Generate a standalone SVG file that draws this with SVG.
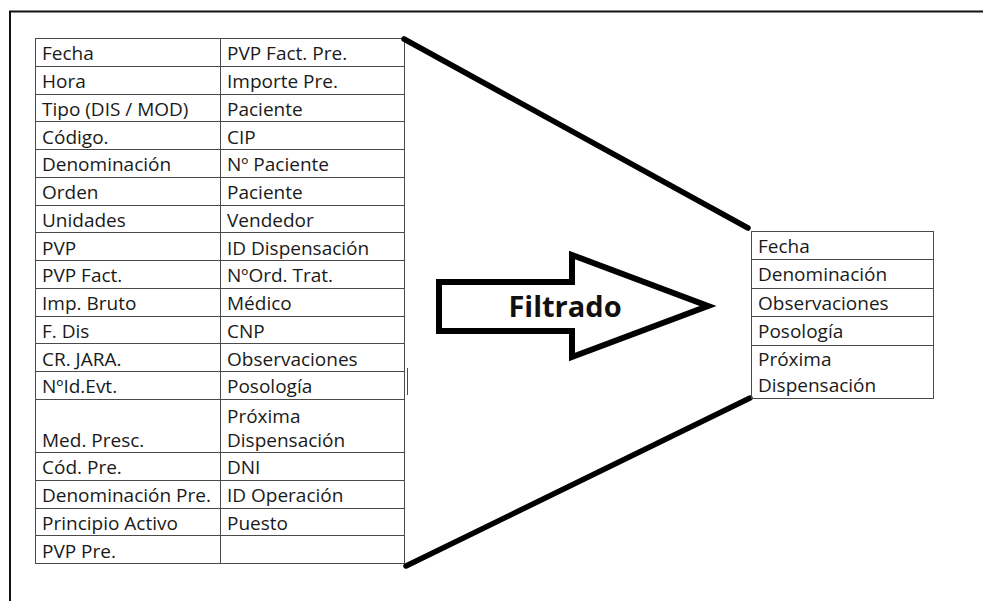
<svg xmlns="http://www.w3.org/2000/svg" width="983" height="601" viewBox="0 0 983 601">
  <style>
    .grid { stroke: #4a4a4a; stroke-width: 1; fill: none; }
    .cell { font-family: "Open Sans", "Liberation Sans", sans-serif; font-size: 19px; fill: #1a1a1a; }
    .label { font-family: "Open Sans", "Liberation Sans", sans-serif; font-size: 29px; font-weight: bold; fill: #111; }
    .funnel { stroke: #000; stroke-width: 5.5; stroke-linecap: round; fill: none; }
    .frame { stroke: #111; stroke-width: 2; fill: none; }
  </style>
  <rect width="983" height="601" fill="#fff"/>

  <!-- outer frame (top and left edges) -->
  <path class="frame" d="M10 601 V11.5 H983"/>

  <!-- source table: all fields -->
  <g id="source-table">
    <rect class="grid" x="35.5" y="38.5" width="369" height="525"/>
    <line class="grid" x1="220.5" y1="38.5" x2="220.5" y2="563.5"/>
    <path class="grid" d="M35.5 66.5H404.5 M35.5 94.5H404.5 M35.5 121.5H404.5 M35.5 149.5H404.5 M35.5 177.5H404.5 M35.5 205.5H404.5 M35.5 232.5H404.5 M35.5 260.5H404.5 M35.5 288.5H404.5 M35.5 316.5H404.5 M35.5 343.5H404.5 M35.5 371.5H404.5 M35.5 399.5H404.5 M35.5 452.5H404.5 M35.5 480.5H404.5 M35.5 508.5H404.5 M35.5 535.5H404.5"/>
    <line class="grid" x1="407.5" y1="368" x2="407.5" y2="395"/>
    <g class="cell">
      <text x="42" y="60">Fecha</text>
      <text x="42" y="88">Hora</text>
      <text x="42" y="115.5">Tipo (DIS / MOD)</text>
      <text x="42" y="143.5">Código.</text>
      <text x="42" y="171">Denominación</text>
      <text x="42" y="199">Orden</text>
      <text x="42" y="226.5">Unidades</text>
      <text x="42" y="254.5">PVP</text>
      <text x="42" y="282">PVP Fact.</text>
      <text x="42" y="310">Imp. Bruto</text>
      <text x="42" y="337.5">F. Dis</text>
      <text x="42" y="365.5">CR. JARA.</text>
      <text x="42" y="393">NºId.Evt.</text>
      <text x="42" y="446.5">Med. Presc.</text>
      <text x="42" y="474">Cód. Pre.</text>
      <text x="42" y="502">Denominación Pre.</text>
      <text x="42" y="529.5">Principio Activo</text>
      <text x="42" y="557.5">PVP Pre.</text>

      <text x="227" y="60">PVP Fact. Pre.</text>
      <text x="227" y="88">Importe Pre.</text>
      <text x="227" y="115.5">Paciente</text>
      <text x="227" y="143.5">CIP</text>
      <text x="227" y="171">Nº Paciente</text>
      <text x="227" y="199">Paciente</text>
      <text x="227" y="226.5">Vendedor</text>
      <text x="227" y="254.5">ID Dispensación</text>
      <text x="227" y="282">NºOrd. Trat.</text>
      <text x="227" y="310">Médico</text>
      <text x="227" y="337.5">CNP</text>
      <text x="227" y="365.5">Observaciones</text>
      <text x="227" y="393">Posología</text>
      <text x="227" y="422.5">Próxima</text>
      <text x="227" y="446.5">Dispensación</text>
      <text x="227" y="474">DNI</text>
      <text x="227" y="502">ID Operación</text>
      <text x="227" y="529.5">Puesto</text>
    </g>
  </g>

  <!-- funnel edges narrowing from the full table to the filtered one -->
  <g id="connectors">
    <line class="funnel" x1="404" y1="39" x2="748" y2="228"/>
    <line class="funnel" x1="406" y1="566" x2="750" y2="398"/>
  </g>

  <!-- block arrow with caption -->
  <g id="filter-arrow">
    <path d="M439 282 H572 V255 L708 306 L572 357 V331 H439 Z" fill="#fff" stroke="#000" stroke-width="6" stroke-linejoin="miter"/>
    <text class="label" x="565" y="317" text-anchor="middle">Filtrado</text>
  </g>

  <!-- filtered table -->
  <g id="result-table">
    <rect class="grid" x="751.5" y="231.5" width="182" height="167"/>
    <path class="grid" d="M751.5 259.5H933.5 M751.5 288.5H933.5 M751.5 316.5H933.5 M751.5 345.5H933.5"/>
    <g class="cell">
      <text x="758" y="252.5">Fecha</text>
      <text x="758" y="281">Denominación</text>
      <text x="758" y="309.5">Observaciones</text>
      <text x="758" y="338">Posología</text>
      <text x="758" y="366">Próxima</text>
      <text x="758" y="392">Dispensación</text>
    </g>
  </g>
</svg>
